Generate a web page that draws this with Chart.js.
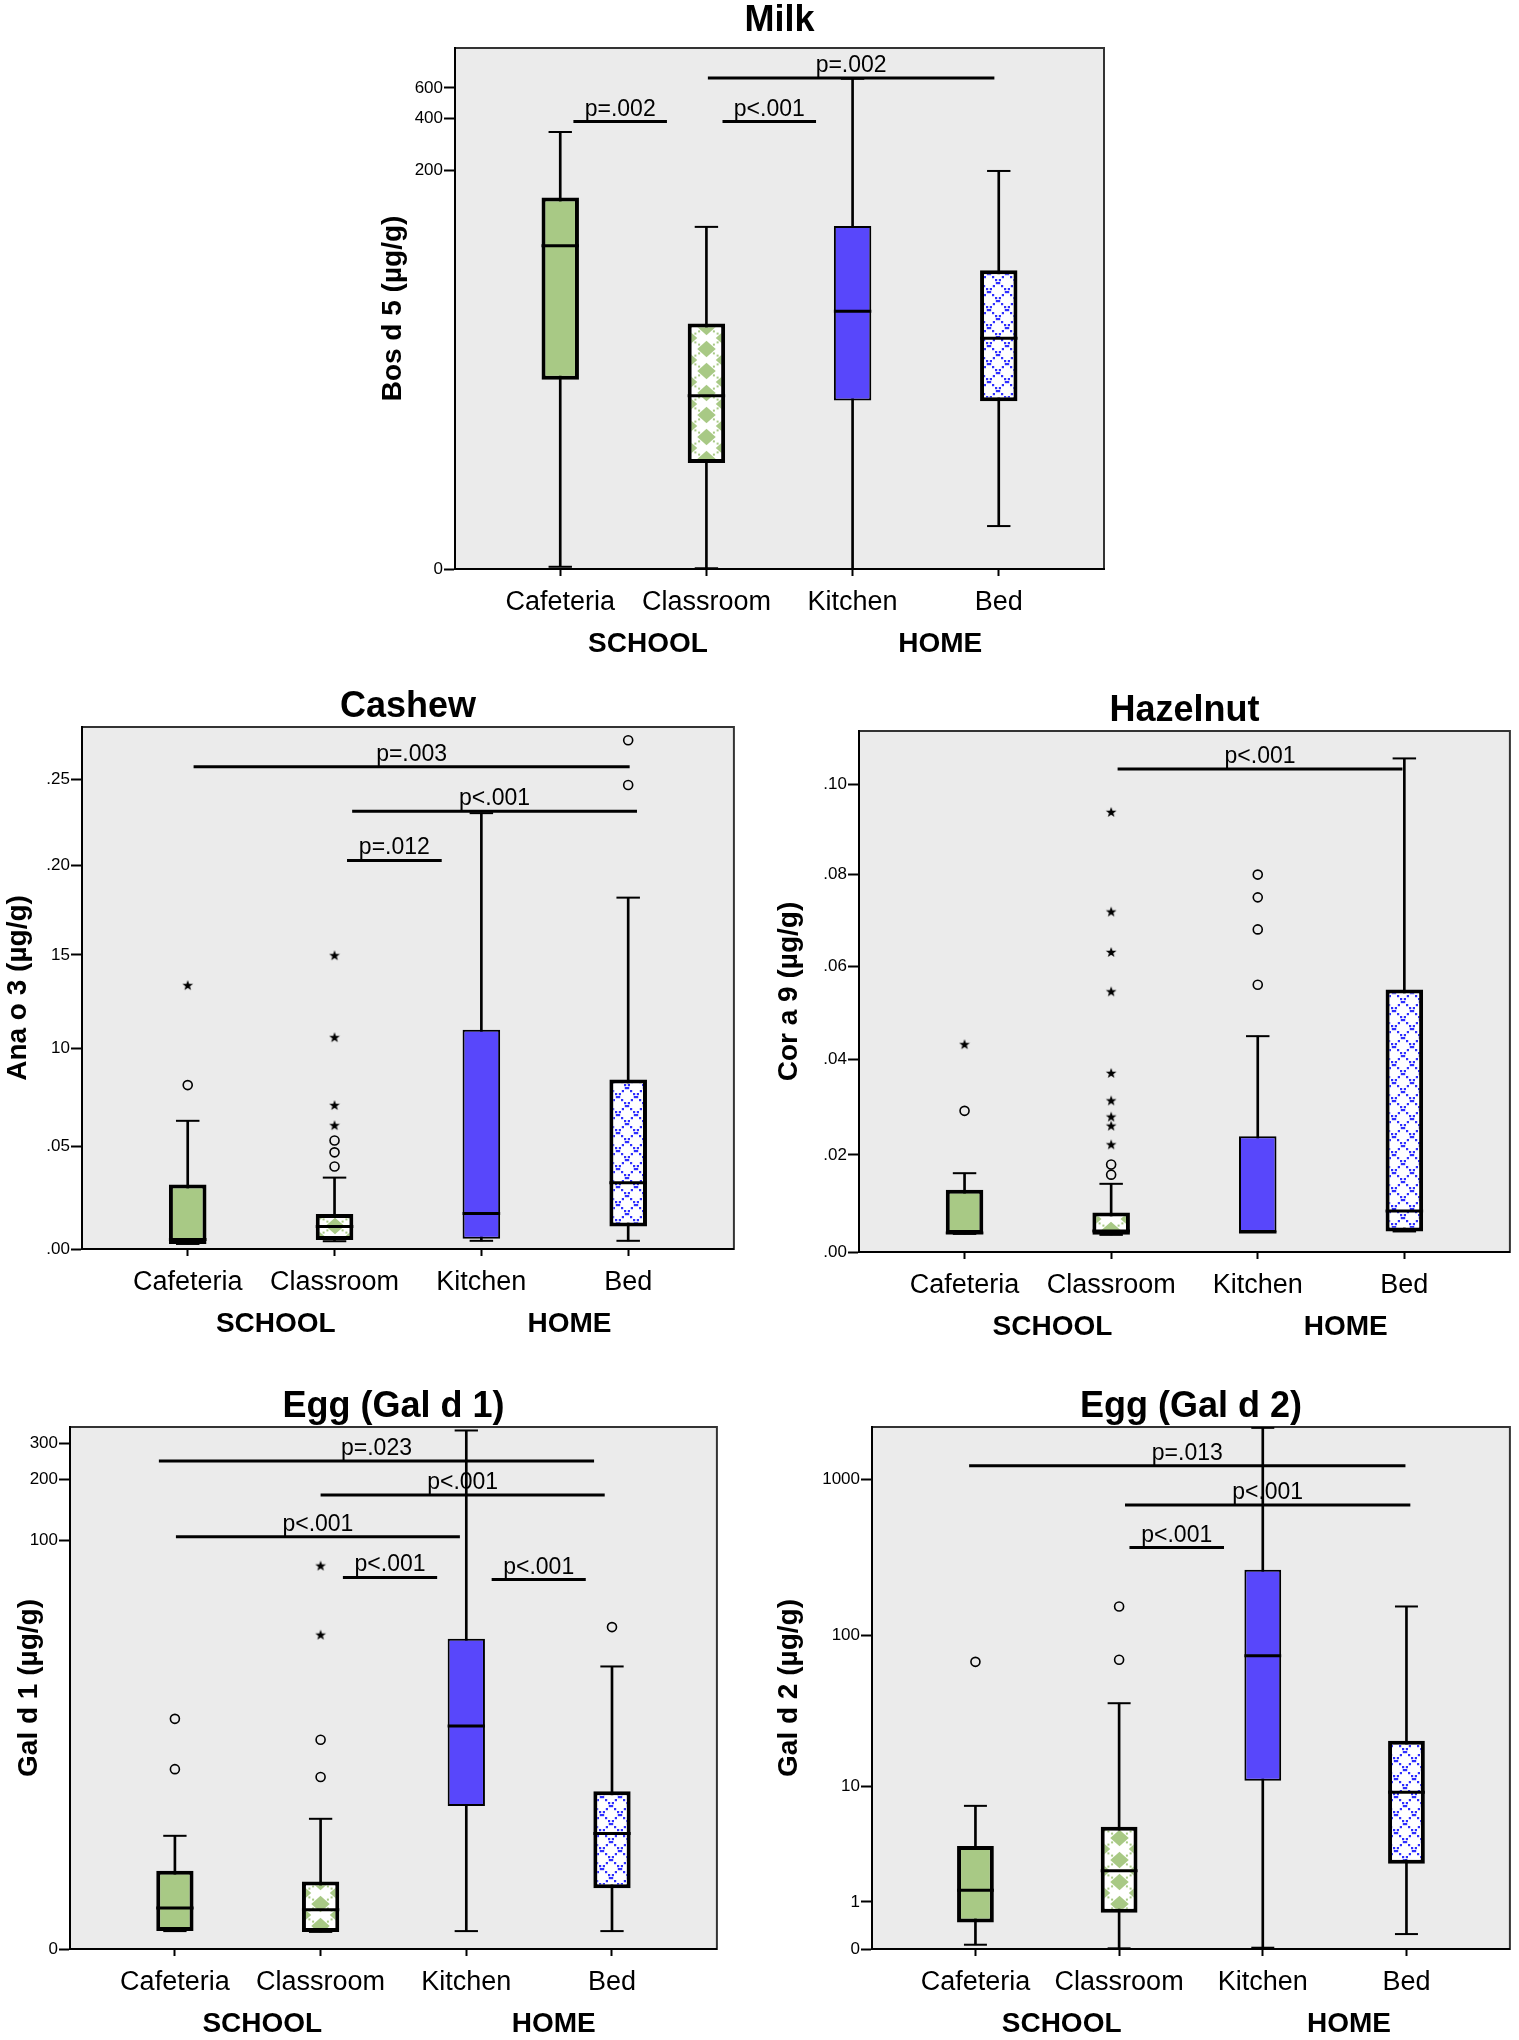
<!DOCTYPE html>
<html>
<head>
<meta charset="utf-8">
<title>Allergen levels by location</title>
<script src="https://cdn.jsdelivr.net/npm/chart.js@4.4.1/dist/chart.umd.min.js"></script>
<style>
  body { margin: 0; background: #fff; width: 1519px; height: 2040px; position: relative; overflow: hidden; }
  canvas { position: absolute; }
</style>
</head>
<body>
<canvas id="milk"></canvas>
<canvas id="cashew"></canvas>
<canvas id="hazelnut"></canvas>
<canvas id="egg1"></canvas>
<canvas id="egg2"></canvas>
<script>
// ---- data (µg/g) ----
const categories = ['Cafeteria', 'Classroom', 'Kitchen', 'Bed'];
const groupLabels = ['SCHOOL', 'HOME'];
const groupTickAt = [0.6, 2.6];

// Milk - Bos d 5
const milkLow    = [0.03, 0.01, 0, 0.77];
const milkQ1     = [11.4, 3.1, 8.4, 8.3];
const milkMedian = [72.5, 9.0, 29.8, 20.5];
const milkQ3     = [139, 25.2, 94.6, 52.2];
const milkHigh   = [333, 93.6, 677, 198];
const milkCircles = [];
const milkStars = [];
const milkTicks = [0, 200, 400, 600];
const milkTickLabels = ['0', '200', '400', '600'];
const milkPLabels = ['p=.002', 'p<.001', 'p=.002'];
const milkPAt = [383, 383, 685];
const milkPFrom = [0.09, 1.11, 1.01];
const milkPTo = [0.73, 1.75, 2.97];

// Cashew - Ana o 3
const cashewLow    = [0.0024, 0.0037, 0.0039, 0.0039];
const cashewQ1     = [0.0024, 0.0043, 0.0049, 0.0108];
const cashewMedian = [0.0045, 0.0108, 0.0170, 0.0320];
const cashewQ3     = [0.0311, 0.0168, 0.1098, 0.0839];
const cashewHigh   = [0.0628, 0.0345, 0.2301, 0.1817];
const cashewCircles = [[0, 0.081], [1, 0.040], [1, 0.047], [1, 0.0529], [3, 0.2467], [3, 0.2735]];
const cashewStars = [[0, 0.1336], [1, 0.0606], [1, 0.0708], [1, 0.1059], [1, 0.1498]];
const cashewTicks = [0, 0.05, 0.10, 0.15, 0.20, 0.25];
const cashewTickLabels = ['.00', '.05', '10', '15', '.20', '.25'];
const cashewPLabels = ['p=.003', 'p<.001', 'p=.012'];
const cashewPAt = [0.2575, 0.2312, 0.2028];
const cashewPFrom = [0.04, 1.12, 1.085];
const cashewPTo = [3.01, 3.06, 1.73];

// Hazelnut - Cor a 9
const hazelLow    = [0.0037, 0.0035, 0.0041, 0.0042];
const hazelQ1     = [0.0037, 0.0035, 0.0041, 0.0042];
const hazelMedian = [0.0039, 0.0043, 0.0041, 0.0084];
const hazelQ3     = [0.0128, 0.0081, 0.0239, 0.0550];
const hazelHigh   = [0.0162, 0.0140, 0.0450, 0.1059];
const hazelCircles = [[0, 0.0292], [1, 0.0159], [1, 0.0180], [2, 0.0560], [2, 0.0680], [2, 0.0750], [2, 0.0800]];
const hazelStars = [[0, 0.0433], [1, 0.0222], [1, 0.0261], [1, 0.0280], [1, 0.0314], [1, 0.0372],
                    [1, 0.0546], [1, 0.0631], [1, 0.0719], [1, 0.0939]];
const hazelTicks = [0, 0.02, 0.04, 0.06, 0.08, 0.10];
const hazelTickLabels = ['.00', '.02', '.04', '.06', '.08', '.10'];
const hazelPLabels = ['p<.001'];
const hazelPAt = [0.1035];
const hazelPFrom = [1.044];
const hazelPTo = [2.987];

// Egg - Gal d 1
const egg1Low    = [0.224, 0.213, 0.224, 0.224];
const egg1Q1     = [0.224, 0.213, 4.03, 0.983];
const egg1Median = [0.589, 0.558, 11.4, 2.69];
const egg1Q3     = [1.417, 1.142, 32.2, 4.93];
const egg1High   = [2.59, 3.35, 348, 23.3];
const egg1Circles = [[0, 6.62], [0, 12.45], [1, 5.98], [1, 9.62], [3, 36.9]];
const egg1Stars = [[1, 33.8], [1, 74.9]];
const egg1Ticks = [0, 100, 200, 300];
const egg1TickLabels = ['0', '100', '200', '300'];
const egg1PLabels = ['p=.023', 'p<.001', 'p<.001', 'p<.001', 'p<.001'];
const egg1PAt = [246.6, 167.4, 104, 65.4, 63.8];
const egg1PFrom = [-0.11, 1.0, 0.007, 1.153, 2.174];
const egg1PTo = [2.877, 2.95, 1.956, 1.80, 2.82];

// Egg - Gal d 2
const egg2Low    = [0.065, 0.01, 0.019, 0.246];
const egg2Q1     = [0.476, 0.704, 10.9, 2.51];
const egg2Median = [1.377, 2.17, 73.9, 9.06];
const egg2Q3     = [3.56, 5.05, 265, 20.5];
const egg2High   = [7.23, 36.3, 2150, 154];
const egg2Circles = [[0, 67.6], [1, 69.8], [1, 154]];
const egg2Stars = [];
const egg2Ticks = [0, 1, 10, 100, 1000];
const egg2TickLabels = ['0', '1', '10', '100', '1000'];
const egg2PLabels = ['p=.013', 'p<.001', 'p<.001'];
const egg2PAt = [1229, 690, 368];
const egg2PFrom = [-0.044, 1.041, 1.072];
const egg2PTo = [2.993, 3.027, 1.73];

// ---- drawing ----
Chart.defaults.font.family = "'Liberation Sans', Arial, sans-serif";
Chart.defaults.color = '#000';

const GREEN = '#a8c985';
const BLUE = '#5847fb';
const T = v => Math.log10(v + 1);   // axes are log10(x+1)

function halfWidth(chart, units) {
  const xs = chart.scales.x;
  return Math.abs(xs.getPixelForValue(units) - xs.getPixelForValue(0));
}

function starImage() {
  const c = document.createElement('canvas');
  c.width = 12; c.height = 12;
  const g = c.getContext('2d');
  g.fillStyle = '#000';
  g.beginPath();
  for (let k = 0; k < 10; k++) {
    const r = k % 2 ? 2.3 : 5.6;
    const a = -Math.PI / 2 + k * Math.PI / 5;
    g.lineTo(6 + r * Math.cos(a), 6.5 + r * Math.sin(a));
  }
  g.closePath();
  g.fill();
  return c;
}
const STAR = starImage();

// green diamonds on white, one column per box
function classroomPattern(chart, i) {
  const xs = chart.scales.x;
  const w = Math.max(8, Math.round(2 * halfWidth(chart, 0.128)));
  const h = 22;
  const c = document.createElement('canvas');
  c.width = w; c.height = h;
  const g = c.getContext('2d');
  g.fillStyle = '#fff';
  g.fillRect(0, 0, w, h);
  g.fillStyle = GREEN;
  for (let s = 0; s <= 1.001; s += 0.1) {
    g.fillRect(s * w - 1, s * h - 1, 2, 2);
    g.fillRect((1 - s) * w - 1, s * h - 1, 2, 2);
  }
  const dw = w * 0.25, dh = h * 0.38;
  [[w / 2, h / 2], [0, 0], [w, 0], [0, h], [w, h]].forEach(([x, y]) => {
    g.beginPath();
    g.moveTo(x, y - dh); g.lineTo(x + dw, y); g.lineTo(x, y + dh); g.lineTo(x - dw, y);
    g.closePath();
    g.fill();
  });
  const p = chart.ctx.createPattern(c, 'repeat');
  p.setTransform(new DOMMatrix().translate(Math.round(xs.getPixelForValue(i) - w / 2), chart.chartArea.top + 4));
  return p;
}

// blue dotted cross-hatch on white
function bedPattern(chart, i) {
  const xs = chart.scales.x;
  const s = 18;
  const c = document.createElement('canvas');
  c.width = s; c.height = s;
  const g = c.getContext('2d');
  g.fillStyle = '#fff';
  g.fillRect(0, 0, s, s);
  g.fillStyle = '#2f2fff';
  for (let k = 0; k < s; k += 3) {
    g.fillRect(k, k, 2.2, 2.2);
    g.fillRect(s - k - 2.2, k, 2.2, 2.2);
  }
  const p = chart.ctx.createPattern(c, 'repeat');
  p.setTransform(new DOMMatrix().translate(Math.round(xs.getPixelForValue(i)) - 1, chart.chartArea.top));
  return p;
}

function boxFill(ctx) {
  if (ctx.type !== 'data') return GREEN;
  const i = ctx.dataIndex;
  if (i === 0) return GREEN;
  if (i === 2) return BLUE;
  if (i === 1) return classroomPattern(ctx.chart, i);
  return bedPattern(ctx.chart, i);
}

const plotFrame = {
  id: 'plotFrame',
  beforeDraw(chart) {
    const { ctx, chartArea: a } = chart;
    ctx.save();
    ctx.fillStyle = '#ebebeb';
    ctx.fillRect(a.left, a.top, a.width, a.height);
    ctx.strokeStyle = '#333';
    ctx.lineWidth = 2;
    ctx.strokeRect(a.left, a.top, a.width, a.height);
    ctx.restore();
  }
};

const pValueText = {
  id: 'pValueText',
  afterDatasetsDraw(chart) {
    const ctx = chart.ctx;
    ctx.save();
    ctx.font = "23px 'Liberation Sans', Arial, sans-serif";
    ctx.fillStyle = '#000';
    ctx.textAlign = 'center';
    ctx.textBaseline = 'alphabetic';
    chart.data.datasets.forEach((ds, k) => {
      if (!ds.pLabel) return;
      const pts = chart.getDatasetMeta(k).data;
      ctx.fillText(ds.pLabel, (pts[0].x + pts[1].x) / 2, pts[0].y - 6);
    });
    ctx.restore();
  }
};

function makePanel(p) {
  const cv = document.getElementById(p.id);
  const [L, Tp, R, B] = p.frame;
  const left = L - p.axisW;
  const top = Tp - 36 - p.titleGap;
  cv.width = R + 4 - left;
  cv.height = B - top + 90;
  cv.style.left = left + 'px';
  cv.style.top = top + 'px';

  const idx = [0, 1, 2, 3];
  const datasets = [];

  p.pLabels.forEach((lab, k) => {
    datasets.push({
      type: 'line', pLabel: lab, order: 0,
      data: [{ x: p.pFrom[k], y: T(p.pAt[k]) }, { x: p.pTo[k], y: T(p.pAt[k]) }],
      borderColor: '#000', borderWidth: 3, pointRadius: 0, fill: false
    });
  });
  datasets.push({
    type: 'scatter', order: 1,
    data: p.circles.map(([i, v]) => ({ x: i, y: T(v) })),
    pointStyle: 'circle', pointRadius: 4.5, pointBorderWidth: 1.6,
    pointBorderColor: '#000', pointBackgroundColor: 'rgba(0,0,0,0)'
  });
  datasets.push({
    type: 'scatter', order: 1,
    data: p.stars.map(([i, v]) => ({ x: i, y: T(v) })),
    pointStyle: STAR, pointRadius: 5
  });
  datasets.push({
    type: 'scatter', order: 2,
    data: idx.map(i => ({ x: i, y: T(p.median[i]) })),
    pointStyle: 'line', pointRadius: ctx => halfWidth(ctx.chart, 0.128),
    pointBorderWidth: 3, pointBorderColor: '#000'
  });
  datasets.push({
    type: 'bar', order: 3, grouped: false,
    data: idx.map(i => ({ x: i, y: [T(p.q1[i]), T(p.q3[i])] })),
    backgroundColor: boxFill, borderColor: '#000', borderWidth: [4, 4, 2, 4],
    borderSkipped: false, barPercentage: 0.256, categoryPercentage: 1
  });
  datasets.push({
    type: 'scatter', order: 4,
    data: idx.map(i => ({ x: i, y: T(p.low[i]) })).concat(idx.map(i => ({ x: i, y: T(p.high[i]) }))),
    pointStyle: 'line', pointRadius: ctx => halfWidth(ctx.chart, 0.08),
    pointBorderWidth: 2, pointBorderColor: '#000'
  });
  datasets.push({
    type: 'bar', order: 5, grouped: false,
    data: idx.map(i => ({ x: i, y: [T(p.low[i]), T(p.high[i])] })),
    backgroundColor: '#000', borderWidth: 0, barThickness: 2
  });

  new Chart(cv, {
    type: 'scatter',
    data: { datasets },
    options: {
      responsive: false,
      animation: false,
      events: [],
      layout: { padding: { left: 0, top: 0, right: 4, bottom: 0 } },
      plugins: {
        legend: { display: false },
        tooltip: { enabled: false },
        title: {
          display: true, text: p.title, fullSize: false, color: '#000',
          font: { size: 36, weight: 'bold', lineHeight: 1 },
          padding: { top: 0, bottom: p.titleGap }
        }
      },
      scales: {
        x: {
          type: 'linear', min: -0.72, max: 3.72, offset: false, weight: 0,
          afterBuildTicks: s => { s.ticks = idx.map(v => ({ value: v })); },
          afterFit: s => { s.height = 50; },
          ticks: { callback: (v, i) => categories[i], autoSkip: false, maxRotation: 0, padding: 10, font: { size: 27 }, color: '#000' },
          grid: { display: true, offset: false, drawOnChartArea: false, drawTicks: true, tickLength: 7, tickWidth: 2, tickColor: '#000' },
          border: { display: true, color: '#000', width: 2 }
        },
        x2: {
          type: 'linear', position: 'bottom', min: -0.72, max: 3.72, offset: false, weight: 1,
          afterBuildTicks: s => { s.ticks = groupTickAt.map(v => ({ value: v })); },
          afterFit: s => { s.height = 40; },
          ticks: { callback: (v, i) => groupLabels[i], autoSkip: false, maxRotation: 0, padding: 8, font: { size: 28, weight: 'bold' }, color: '#000' },
          grid: { display: false, drawTicks: false, offset: false },
          border: { display: false }
        },
        y: {
          type: 'linear', min: 0, max: T(p.yMax),
          afterBuildTicks: s => { s.ticks = p.ticks.map(v => ({ value: T(v) })); },
          afterFit: s => { s.width = p.axisW; },
          ticks: { callback: (v, i) => p.tickLabels[i], autoSkip: false, padding: 1, font: { size: 17 }, color: '#000' },
          grid: { drawOnChartArea: false, drawTicks: true, tickLength: 11, tickWidth: 2, tickColor: '#000' },
          border: { display: true, color: '#000', width: 2 },
          title: { display: true, text: p.yTitle, padding: 0, color: '#000', font: { size: 28, weight: 'bold' } }
        }
      }
    },
    plugins: [plotFrame, pValueText]
  });
}

makePanel({
  id: 'milk', title: 'Milk', yTitle: 'Bos d 5 (µg/g)',
  frame: [455, 48, 1104, 569], axisW: 79, titleGap: 9, yMax: 1020,
  low: milkLow, q1: milkQ1, median: milkMedian, q3: milkQ3, high: milkHigh,
  circles: milkCircles, stars: milkStars, ticks: milkTicks, tickLabels: milkTickLabels,
  pLabels: milkPLabels, pAt: milkPAt, pFrom: milkPFrom, pTo: milkPTo
});
makePanel({
  id: 'cashew', title: 'Cashew', yTitle: 'Ana o 3 (µg/g)',
  frame: [82, 727, 736, 1249], axisW: 81, titleGap: 2, yMax: 0.2815,
  low: cashewLow, q1: cashewQ1, median: cashewMedian, q3: cashewQ3, high: cashewHigh,
  circles: cashewCircles, stars: cashewStars, ticks: cashewTicks, tickLabels: cashewTickLabels,
  pLabels: cashewPLabels, pAt: cashewPAt, pFrom: cashewPFrom, pTo: cashewPTo
});
makePanel({
  id: 'hazelnut', title: 'Hazelnut', yTitle: 'Cor a 9 (µg/g)',
  frame: [859, 731, 1512, 1252], axisW: 87, titleGap: 2, yMax: 0.1121,
  low: hazelLow, q1: hazelQ1, median: hazelMedian, q3: hazelQ3, high: hazelHigh,
  circles: hazelCircles, stars: hazelStars, ticks: hazelTicks, tickLabels: hazelTickLabels,
  pLabels: hazelPLabels, pAt: hazelPAt, pFrom: hazelPFrom, pTo: hazelPTo
});
makePanel({
  id: 'egg1', title: 'Egg (Gal d 1)', yTitle: 'Gal d 1 (µg/g)',
  frame: [70, 1427, 719, 1949], axisW: 58, titleGap: 2, yMax: 362,
  low: egg1Low, q1: egg1Q1, median: egg1Median, q3: egg1Q3, high: egg1High,
  circles: egg1Circles, stars: egg1Stars, ticks: egg1Ticks, tickLabels: egg1TickLabels,
  pLabels: egg1PLabels, pAt: egg1PAt, pFrom: egg1PFrom, pTo: egg1PTo
});
makePanel({
  id: 'egg2', title: 'Egg (Gal d 2)', yTitle: 'Gal d 2 (µg/g)',
  frame: [872, 1427, 1512, 1949], axisW: 100, titleGap: 2, yMax: 2177,
  low: egg2Low, q1: egg2Q1, median: egg2Median, q3: egg2Q3, high: egg2High,
  circles: egg2Circles, stars: egg2Stars, ticks: egg2Ticks, tickLabels: egg2TickLabels,
  pLabels: egg2PLabels, pAt: egg2PAt, pFrom: egg2PFrom, pTo: egg2PTo
});
</script>
</body>
</html>
